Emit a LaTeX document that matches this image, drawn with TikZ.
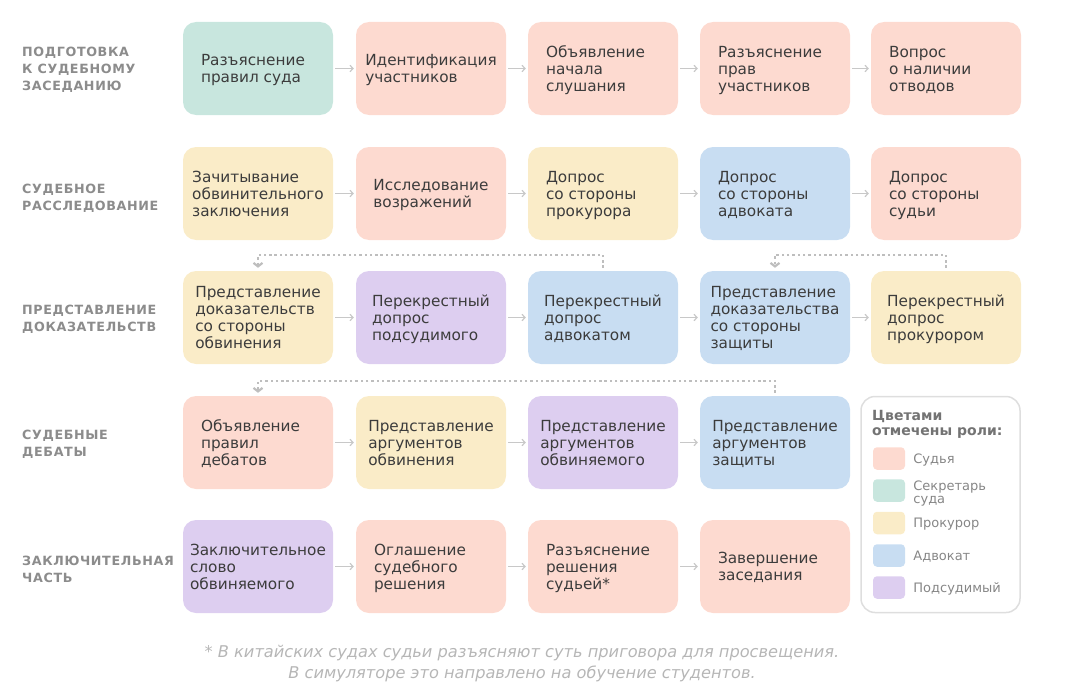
\documentclass[tikz,border=0pt]{standalone}
\usepackage{fontspec}
\setmainfont{DejaVu Sans}
\newfontfamily\labelfont[LetterSpace=5]{DejaVu Sans}
\usetikzlibrary{arrows.meta,positioning}

\definecolor{judgecol}{RGB}{253,218,208}
\definecolor{clerkcol}{RGB}{200,230,222}
\definecolor{prosecol}{RGB}{250,236,200}
\definecolor{lawyercol}{RGB}{200,221,242}
\definecolor{defcol}{RGB}{221,206,240}
\definecolor{textdark}{RGB}{60,60,60}
\definecolor{stagegray}{RGB}{140,140,140}
\definecolor{arrowgray}{RGB}{200,200,200}
\definecolor{dotgray}{RGB}{190,190,190}
\definecolor{framegray}{RGB}{222,222,222}
\definecolor{footgray}{RGB}{182,182,182}

% text block: left aligned, padded 18pt or centred when wide
\newsavebox{\steplines}
\newlength{\steppad}
\newcommand{\steptext}[1]{%
  \sbox{\steplines}{\begin{tabular}{@{}l@{}}#1\end{tabular}}%
  \setlength{\steppad}{\dimexpr(150pt-\wd\steplines)/2\relax}%
  \ifdim\steppad>18pt\setlength{\steppad}{18pt}\fi
  \makebox[150pt][l]{\hspace*{\steppad}%
    \raisebox{-2.5pt}[\ht\steplines][\dp\steplines]{\usebox{\steplines}}}}

\tikzset{
  stepbox/.style={rounded corners=13pt, minimum width=150pt, minimum height=93pt,
    inner sep=0pt, text=textdark, font=\fontsize{15.3}{17}\selectfont},
  judge/.style={stepbox, fill=judgecol},
  clerk/.style={stepbox, fill=clerkcol},
  prosecutor/.style={stepbox, fill=prosecol},
  lawyer/.style={stepbox, fill=lawyercol},
  defendant/.style={stepbox, fill=defcol},
  stage/.style={anchor=west, align=left, inner sep=0pt, text=stagegray,
    font=\labelfont\bfseries\fontsize{12.7}{16.8}\selectfont},
  flow/.style={draw=arrowgray, line width=1.2pt, -{Straight Barb[length=3pt,width=6.5pt]},
    shorten <=2pt, shorten >=2pt},
  loopback/.style={draw=dotgray, line width=2.4pt, dash pattern=on 2.4pt off 2.9pt,
    -{Straight Barb[length=3.5pt,width=9pt,line width=2.2pt]}, shorten <=3pt, shorten >=3pt},
  swatch/.style={rounded corners=4pt, minimum width=32pt, minimum height=22.5pt, inner sep=0pt},
  legendtext/.style={inner sep=0pt, align=left, text=gray!95, font=\fontsize{13}{13}\selectfont}
}

\begin{document}
\begin{tikzpicture}[x=1pt,y=-1pt]
\useasboundingbox (0,0) rectangle (1071,693);

% stages
\node[stage] (s1) at (22,70) {ПОДГОТОВКА\\К СУДЕБНОМУ\\ЗАСЕДАНИЮ};
\node[stage] (s2) at (22,198) {СУДЕБНОЕ\\РАССЛЕДОВАНИЕ};
\node[stage] (s3) at (22,319) {ПРЕДСТАВЛЕНИЕ\\ДОКАЗАТЕЛЬСТВ};
\node[stage] (s4) at (22,444) {СУДЕБНЫЕ\\ДЕБАТЫ};
\node[stage] (s5) at (22,569) {ЗАКЛЮЧИТЕЛЬНАЯ\\ЧАСТЬ};

% preparation
\node[clerk] (a1) at (258,68.5) {\steptext{Разъяснение\\правил суда}};
\node[judge] (a2) at (431,68.5) {\steptext{Идентификация\\участников}};
\node[judge] (a3) at (603,68.5) {\steptext{Объявление\\начала\\слушания}};
\node[judge] (a4) at (775,68.5) {\steptext{Разъяснение\\прав\\участников}};
\node[judge] (a5) at (946,68.5) {\steptext{Вопрос\\о наличии\\отводов}};

% investigation
\node[prosecutor] (b1) at (258,193.5) {\steptext{Зачитывание\\обвинительного\\заключения}};
\node[judge] (b2) at (431,193.5) {\steptext{Исследование\\возражений}};
\node[prosecutor] (b3) at (603,193.5) {\steptext{Допрос\\со стороны\\прокурора}};
\node[lawyer] (b4) at (775,193.5) {\steptext{Допрос\\со стороны\\адвоката}};
\node[judge] (b5) at (946,193.5) {\steptext{Допрос\\со стороны\\судьи}};

% evidence
\node[prosecutor] (c1) at (258,317.5) {\steptext{Представление\\доказательств\\со стороны\\обвинения}};
\node[defendant] (c2) at (431,317.5) {\steptext{Перекрестный\\допрос\\подсудимого}};
\node[lawyer] (c3) at (603,317.5) {\steptext{Перекрестный\\допрос\\адвокатом}};
\node[lawyer] (c4) at (775,317.5) {\steptext{Представление\\доказательства\\со стороны\\защиты}};
\node[prosecutor] (c5) at (946,317.5) {\steptext{Перекрестный\\допрос\\прокурором}};

% debates
\node[judge] (d1) at (258,442.5) {\steptext{Объявление\\правил\\дебатов}};
\node[prosecutor] (d2) at (431,442.5) {\steptext{Представление\\аргументов\\обвинения}};
\node[defendant] (d3) at (603,442.5) {\steptext{Представление\\аргументов\\обвиняемого}};
\node[lawyer] (d4) at (775,442.5) {\steptext{Представление\\аргументов\\защиты}};

% final part
\node[defendant] (e1) at (258,566.5) {\steptext{Заключительное\\слово\\обвиняемого}};
\node[judge] (e2) at (431,566.5) {\steptext{Оглашение\\судебного\\решения}};
\node[judge] (e3) at (603,566.5) {\steptext{Разъяснение\\решения\\судьей*}};
\node[judge] (e4) at (775,566.5) {\steptext{Завершение\\заседания}};

% arrows
\draw[flow] (a1) -- (a2);
\draw[flow] (a2) -- (a3);
\draw[flow] (a3) -- (a4);
\draw[flow] (a4) -- (a5);
\draw[flow] (b1) -- (b2);
\draw[flow] (b2) -- (b3);
\draw[flow] (b3) -- (b4);
\draw[flow] (b4) -- (b5);
\draw[flow] (c1) -- (c2);
\draw[flow] (c2) -- (c3);
\draw[flow] (c3) -- (c4);
\draw[flow] (c4) -- (c5);
\draw[flow] (d1) -- (d2);
\draw[flow] (d2) -- (d3);
\draw[flow] (d3) -- (d4);
\draw[flow] (e1) -- (e2);
\draw[flow] (e2) -- (e3);
\draw[flow] (e3) -- (e4);

% repeats
\draw[loopback] (c3.north) -- ++(0,-16) -| (c1.north);
\draw[loopback] (c5.north) -- ++(0,-16) -| (c4.north);
\draw[loopback] (d4.north) -- ++(0,-15) -| (d1.north);

% legend
\node[draw=framegray, line width=1.5pt, rounded corners=14pt, minimum width=159pt,
  minimum height=216pt, inner sep=0pt] (legend) at (940.5,504.5) {};
\node[anchor=west, align=left, inner sep=0pt, text=gray!110,
  font=\bfseries\fontsize{14}{15}\selectfont] (ltitle) at (872,424) {Цветами\\отмечены роли:};
\node[swatch, fill=judgecol] (sw1) at (889,458.5) {};
\node[swatch, fill=clerkcol] (sw2) at (889,490.5) {};
\node[swatch, fill=prosecol] (sw3) at (889,523) {};
\node[swatch, fill=lawyercol] (sw4) at (889,555.5) {};
\node[swatch, fill=defcol] (sw5) at (889,587.5) {};
\node[legendtext, right=8pt of sw1, yshift=-1.5pt] (l1) {Судья};
\node[legendtext, right=8pt of sw2, yshift=-3pt] (l2) {Секретарь\\суда};
\node[legendtext, right=8pt of sw3, yshift=-1.5pt] (l3) {Прокурор};
\node[legendtext, right=8pt of sw4, yshift=-1.5pt] (l4) {Адвокат};
\node[legendtext, right=8pt of sw5, yshift=-1.5pt] (l5) {Подсудимый};

% footnote
\node[align=center, inner sep=0pt, text=footgray, font=\itshape\fontsize{16.2}{21}\selectfont]
  (note) at (522,664) {* В китайских судах судьи разъясняют суть приговора для просвещения.\\
  В симуляторе это направлено на обучение студентов.};
\end{tikzpicture}
\end{document}
